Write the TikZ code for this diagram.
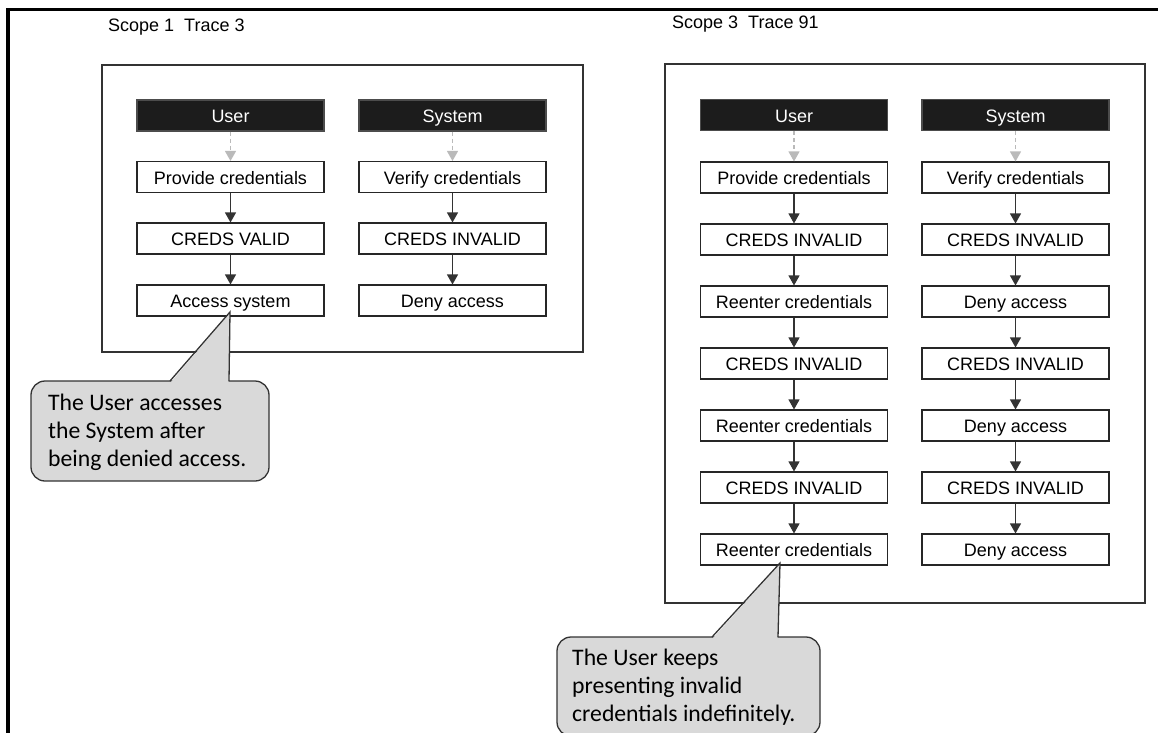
\documentclass[tikz,border=0pt]{standalone}
\usepackage{fontspec}
\setmainfont{Liberation Sans}
\newfontfamily\calloutfont{Carlito}
\usetikzlibrary{arrows.meta}

\definecolor{calloutgray}{HTML}{D9D9D9}
\definecolor{headfill}{HTML}{1C1C1C}

\tikzset{
  stepbox/.style={draw=black!85, line width=1.1pt, fill=white,
    minimum width=187pt, minimum height=31pt, inner sep=0pt,
    text height=16pt, text depth=2pt,
    font=\fontsize{18}{20}\selectfont},
  headbox/.style={stepbox, fill=headfill, draw=black!70, text=white},
  flow/.style={draw=black!80, line width=1.1pt,
    -{Triangle[width=11pt,length=10pt]}},
  startflow/.style={draw=black!27, line width=1.1pt,
    dash pattern=on 4pt off 3pt, -{Triangle[width=11pt,length=10pt]}},
  panel/.style={draw=black!80, line width=1.3pt},
  frameline/.style={draw=black, line width=3.6pt},
  title/.style={anchor=base west, inner sep=0pt, font=\fontsize{18}{20}\selectfont},
  calloutbody/.style={draw=black!80, line width=1.3pt, fill=calloutgray, rounded corners=14pt},
  calloutedge/.style={draw=black!80, line width=1.3pt},
  % multi-line text: the base anchor sits on the last line
  callouttext/.style={anchor=base west, inner sep=0pt, align=left,
    font=\calloutfont\fontsize{23.7}{28}\selectfont}
}

\begin{document}
\begin{tikzpicture}[x=1pt,y=-1pt]
  \useasboundingbox (0,0) rectangle (1158,732);
  \clip (0,0) rectangle (1158,732);

  % page frame: top and left rules
  \draw[frameline] (8,740) -- (8,9.5) -- (1165,9.5);

  % ---------------- Scope 1, Trace 3 ----------------
  \node[title] (t1) at (108,31) {Scope 1\ \ Trace 3};
  \draw[panel] (102,65) rectangle (583,352);

  \node[headbox] (u1)  at (230.5,115.5) {User};
  \node[stepbox] (u1a) at (230.5,177)   {Provide credentials};
  \node[stepbox] (u1b) at (230.5,238.5) {CREDS VALID};
  \node[stepbox] (u1c) at (230.5,300.5) {Access system};

  \node[headbox] (s1)  at (452.5,115.5) {System};
  \node[stepbox] (s1a) at (452.5,177)   {Verify credentials};
  \node[stepbox] (s1b) at (452.5,238.5) {CREDS INVALID};
  \node[stepbox] (s1c) at (452.5,300.5) {Deny access};

  \draw[startflow] (u1) -- (u1a);
  \draw[flow] (u1a) -- (u1b);
  \draw[flow] (u1b) -- (u1c);
  \draw[startflow] (s1) -- (s1a);
  \draw[flow] (s1a) -- (s1b);
  \draw[flow] (s1b) -- (s1c);

  % ---------------- Scope 3, Trace 91 ----------------
  \node[title] (t3) at (672,28) {Scope 3\ \ Trace 91};
  \draw[panel] (665,64) rectangle (1145,603);

  \node[headbox] (u3)  at (794,115) {User};
  \node[stepbox] (u3a) at (794,177.5) {Provide credentials};
  \node[stepbox] (u3b) at (794,239.5) {CREDS INVALID};
  \node[stepbox] (u3c) at (794,301.5) {Reenter credentials};
  \node[stepbox] (u3d) at (794,363.5) {CREDS INVALID};
  \node[stepbox] (u3e) at (794,425.5) {Reenter credentials};
  \node[stepbox] (u3f) at (794,487.5) {CREDS INVALID};
  \node[stepbox] (u3g) at (794,549.5) {Reenter credentials};

  \node[headbox] (s3)  at (1015.5,115) {System};
  \node[stepbox] (s3a) at (1015.5,177.5) {Verify credentials};
  \node[stepbox] (s3b) at (1015.5,239.5) {CREDS INVALID};
  \node[stepbox] (s3c) at (1015.5,301.5) {Deny access};
  \node[stepbox] (s3d) at (1015.5,363.5) {CREDS INVALID};
  \node[stepbox] (s3e) at (1015.5,425.5) {Deny access};
  \node[stepbox] (s3f) at (1015.5,487.5) {CREDS INVALID};
  \node[stepbox] (s3g) at (1015.5,549.5) {Deny access};

  \draw[startflow] (u3) -- (u3a);
  \draw[startflow] (s3) -- (s3a);
  \foreach \a/\b in {a/b,b/c,c/d,d/e,e/f,f/g}{
    \draw[flow] (u3\a) -- (u3\b);
    \draw[flow] (s3\a) -- (s3\b);
  }

  % ---------------- callouts ----------------
  % callout pointing at "Access system"
  \draw[calloutbody] (31,381) rectangle (269,481);
  \fill[calloutgray] (170.8,382.2) -- (230,313) -- (228.6,382.2) -- cycle;
  \draw[calloutedge, line join=miter] (170,381) -- (230,312) -- (229,381);
  \node[callouttext] (c1) at (48,466)
    {The User accesses\\the System after\\being denied access.};

  % callout pointing at the last "Reenter credentials"
  \draw[calloutbody] (557,637) rectangle (820,736);
  \fill[calloutgray] (712.8,638.2) -- (780,564) -- (777.6,638.2) -- cycle;
  \draw[calloutedge, line join=miter] (712,637) -- (780,563) -- (778,637);
  \node[callouttext] (c2) at (572,721.5)
    {The User keeps\\presenting invalid\\credentials indefinitely.};
\end{tikzpicture}
\end{document}
